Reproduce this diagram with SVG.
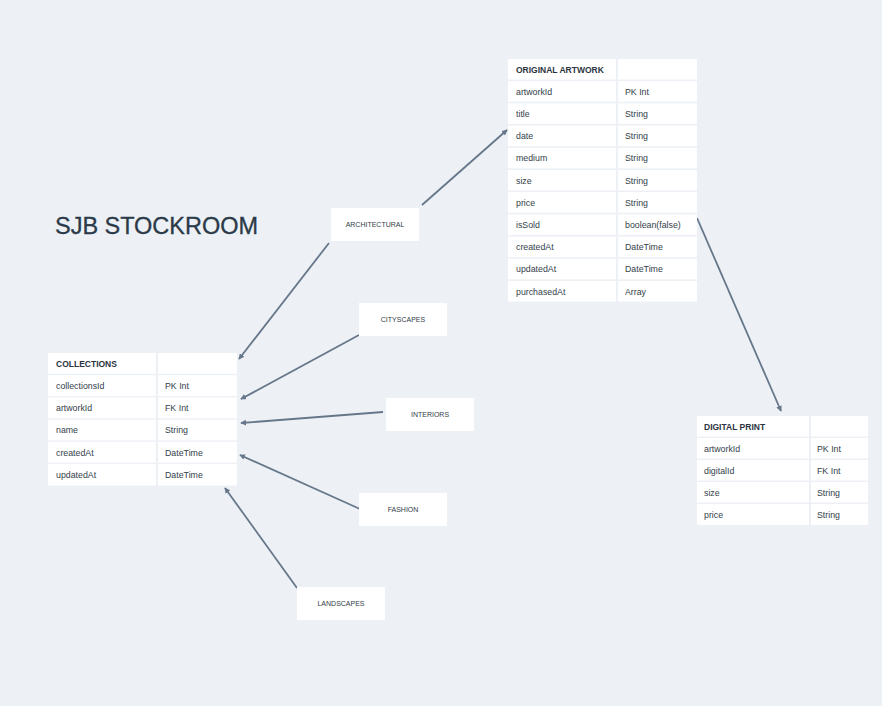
<svg xmlns="http://www.w3.org/2000/svg" width="882" height="706" viewBox="0 0 882 706">
<defs>
<style>
.c{fill:#ffffff}
.h{font-family:"Liberation Sans",Arial,sans-serif;font-weight:bold;font-size:8.5px;fill:#2b3440}
.t{font-family:"Liberation Sans",Arial,sans-serif;font-size:8.8px;fill:#333e4a}
.l{font-family:"Liberation Sans",Arial,sans-serif;font-size:7px;fill:#333d48;text-anchor:middle}
.e{stroke:#66778a;stroke-width:1.8;fill:none;marker-end:url(#a)}
</style>
<marker id="a" viewBox="0 0 8 8" refX="7" refY="4" markerWidth="3.2" markerHeight="3.2" orient="auto">
<path d="M0,0 L8,4 L0,8 z" fill="#66778a"/>
</marker>
</defs>
<rect width="882" height="706" fill="#edf1f6"/>
<text x="55" y="234" font-family="Liberation Sans,Arial,sans-serif" font-size="23.5" fill="#2b3a48" stroke="#2b3a48" stroke-width="0.3" textLength="203">SJB STOCKROOM</text>

<g id="connectors">
<line class="e" x1="422" y1="205" x2="507" y2="130"/>
<line class="e" x1="329" y1="243" x2="239" y2="359"/>
<line class="e" x1="359" y1="335" x2="241" y2="399"/>
<line class="e" x1="383" y1="412" x2="241" y2="423"/>
<line class="e" x1="360" y1="509" x2="240" y2="455"/>
<line class="e" x1="297" y1="588" x2="225" y2="488"/>
<line class="e" x1="697" y1="218" x2="781" y2="411"/>
</g>

<g id="original-artwork">
<rect class="c" x="508" y="59" width="108" height="20.5"/><rect class="c" x="618" y="59" width="79" height="20.5"/>
<text class="h" x="516" y="72.5">ORIGINAL ARTWORK</text>
<rect class="c" x="508" y="81.2" width="108" height="20.5"/><rect class="c" x="618" y="81.2" width="79" height="20.5"/>
<text class="t" x="516" y="94.7">artworkId</text><text class="t" x="625" y="94.7">PK Int</text>
<rect class="c" x="508" y="103.4" width="108" height="20.5"/><rect class="c" x="618" y="103.4" width="79" height="20.5"/>
<text class="t" x="516" y="116.9">title</text><text class="t" x="625" y="116.9">String</text>
<rect class="c" x="508" y="125.6" width="108" height="20.5"/><rect class="c" x="618" y="125.6" width="79" height="20.5"/>
<text class="t" x="516" y="139.1">date</text><text class="t" x="625" y="139.1">String</text>
<rect class="c" x="508" y="147.8" width="108" height="20.5"/><rect class="c" x="618" y="147.8" width="79" height="20.5"/>
<text class="t" x="516" y="161.3">medium</text><text class="t" x="625" y="161.3">String</text>
<rect class="c" x="508" y="170" width="108" height="20.5"/><rect class="c" x="618" y="170" width="79" height="20.5"/>
<text class="t" x="516" y="183.5">size</text><text class="t" x="625" y="183.5">String</text>
<rect class="c" x="508" y="192.2" width="108" height="20.5"/><rect class="c" x="618" y="192.2" width="79" height="20.5"/>
<text class="t" x="516" y="205.7">price</text><text class="t" x="625" y="205.7">String</text>
<rect class="c" x="508" y="214.4" width="108" height="20.5"/><rect class="c" x="618" y="214.4" width="79" height="20.5"/>
<text class="t" x="516" y="227.9">isSold</text><text class="t" x="625" y="227.9">boolean(false)</text>
<rect class="c" x="508" y="236.6" width="108" height="20.5"/><rect class="c" x="618" y="236.6" width="79" height="20.5"/>
<text class="t" x="516" y="250.1">createdAt</text><text class="t" x="625" y="250.1">DateTime</text>
<rect class="c" x="508" y="258.8" width="108" height="20.5"/><rect class="c" x="618" y="258.8" width="79" height="20.5"/>
<text class="t" x="516" y="272.3">updatedAt</text><text class="t" x="625" y="272.3">DateTime</text>
<rect class="c" x="508" y="281" width="108" height="20.5"/><rect class="c" x="618" y="281" width="79" height="20.5"/>
<text class="t" x="516" y="294.5">purchasedAt</text><text class="t" x="625" y="294.5">Array</text>
</g>

<g id="collections">
<rect class="c" x="48" y="353" width="108" height="20.8"/><rect class="c" x="158" y="353" width="79" height="20.8"/>
<text class="h" x="56" y="366.5">COLLECTIONS</text>
<rect class="c" x="48" y="375.2" width="108" height="20.8"/><rect class="c" x="158" y="375.2" width="79" height="20.8"/>
<text class="t" x="56" y="388.9">collectionsId</text><text class="t" x="165" y="388.9">PK Int</text>
<rect class="c" x="48" y="397.4" width="108" height="20.8"/><rect class="c" x="158" y="397.4" width="79" height="20.8"/>
<text class="t" x="56" y="411.1">artworkId</text><text class="t" x="165" y="411.1">FK Int</text>
<rect class="c" x="48" y="419.6" width="108" height="20.8"/><rect class="c" x="158" y="419.6" width="79" height="20.8"/>
<text class="t" x="56" y="433.3">name</text><text class="t" x="165" y="433.3">String</text>
<rect class="c" x="48" y="441.8" width="108" height="20.8"/><rect class="c" x="158" y="441.8" width="79" height="20.8"/>
<text class="t" x="56" y="455.5">createdAt</text><text class="t" x="165" y="455.5">DateTime</text>
<rect class="c" x="48" y="464" width="108" height="21.5"/><rect class="c" x="158" y="464" width="79" height="21.5"/>
<text class="t" x="56" y="477.7">updatedAt</text><text class="t" x="165" y="477.7">DateTime</text>
</g>

<g id="digital-print">
<rect class="c" x="697" y="416" width="112" height="20.5"/><rect class="c" x="811" y="416" width="57" height="20.5"/>
<text class="h" x="704" y="429.5">DIGITAL PRINT</text>
<rect class="c" x="697" y="438" width="112" height="20.5"/><rect class="c" x="811" y="438" width="57" height="20.5"/>
<text class="t" x="704" y="451.5">artworkId</text><text class="t" x="817" y="451.5">PK Int</text>
<rect class="c" x="697" y="460" width="112" height="20.5"/><rect class="c" x="811" y="460" width="57" height="20.5"/>
<text class="t" x="704" y="473.5">digitalId</text><text class="t" x="817" y="473.5">FK Int</text>
<rect class="c" x="697" y="482" width="112" height="20.5"/><rect class="c" x="811" y="482" width="57" height="20.5"/>
<text class="t" x="704" y="495.5">size</text><text class="t" x="817" y="495.5">String</text>
<rect class="c" x="697" y="504" width="112" height="21"/><rect class="c" x="811" y="504" width="57" height="21"/>
<text class="t" x="704" y="517.5">price</text><text class="t" x="817" y="517.5">String</text>
</g>

<g id="architectural"><rect class="c" x="331" y="208" width="88" height="33"/><text class="l" x="375" y="227">ARCHITECTURAL</text></g>
<g id="cityscapes"><rect class="c" x="359" y="303" width="88" height="33"/><text class="l" x="403" y="322">CITYSCAPES</text></g>
<g id="interiors"><rect class="c" x="386" y="398" width="88" height="33"/><text class="l" x="430" y="417">INTERIORS</text></g>
<g id="fashion"><rect class="c" x="359" y="493" width="88" height="33"/><text class="l" x="403" y="512">FASHION</text></g>
<g id="landscapes"><rect class="c" x="297" y="587" width="88" height="33"/><text class="l" x="341" y="606">LANDSCAPES</text></g>
</svg>
